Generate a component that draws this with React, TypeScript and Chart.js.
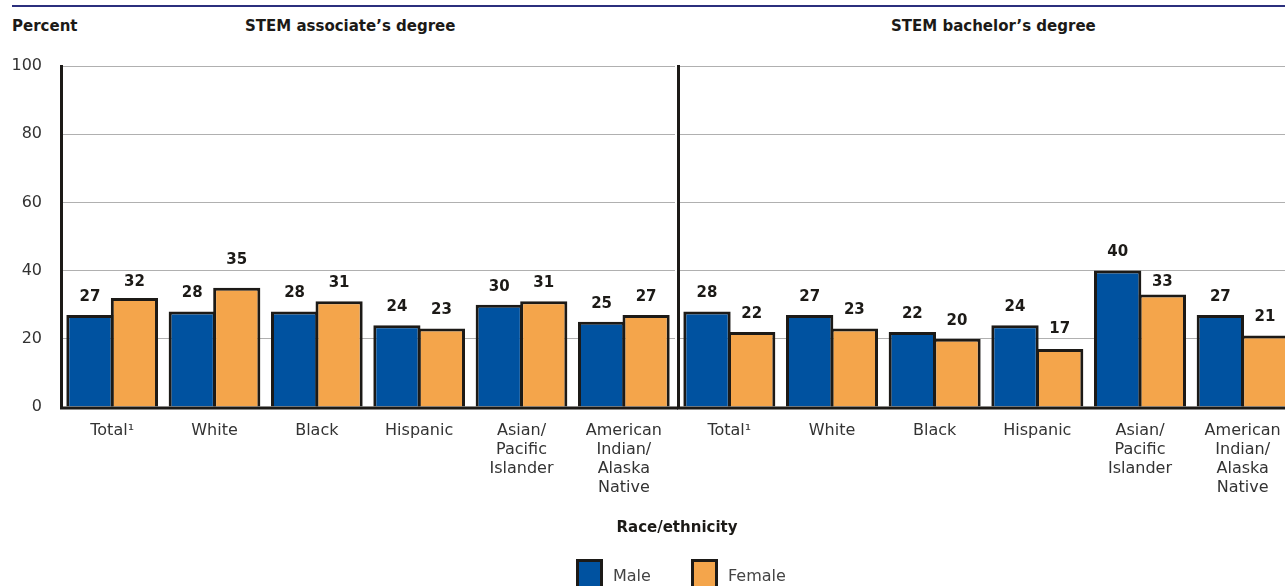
import React, { useEffect, useRef } from "react";
import { Chart, registerables } from "chart.js";

Chart.register(...registerables);

const categories: (string | string[])[] = [
  "Total¹",
  "White",
  "Black",
  "Hispanic",
  ["Asian/", "Pacific", "Islander"],
  ["American", "Indian/", "Alaska", "Native"],
];
const associateMale = [27, 28, 28, 24, 30, 25];
const associateFemale = [32, 35, 31, 23, 31, 27];
const bachelorMale = [28, 27, 22, 24, 40, 27];
const bachelorFemale = [22, 23, 20, 17, 33, 21];
const yMin = 0;
const yMax = 100;
const yStep = 20;

const FONT = "'DejaVu Sans', sans-serif";
const BLUE = "#0052a0";
const ORANGE = "#f4a54b";
const DARK = "#1c1a17";
const GRID = "#b0b0b0";
const TEXT = "#333333";

const valueLabels = {
  id: "valueLabels",
  afterDatasetsDraw(chart: any) {
    const ctx = chart.ctx;
    const y = chart.scales.y;
    const grids = y.ticks
      .map((t: any) => t.value)
      .filter((v: number) => v !== 0)
      .map((v: number) => y.getPixelForValue(v));
    ctx.save();
    ctx.font = `bold 15px ${FONT}`;
    ctx.fillStyle = DARK;
    ctx.textAlign = "center";
    ctx.textBaseline = "middle";
    chart.data.datasets.forEach((ds: any, i: number) => {
      const meta = chart.getDatasetMeta(i);
      meta.data.forEach((el: any, j: number) => {
        let c = el.y - 18;
        for (const g of grids) {
          if (Math.abs(c - g) < 10) {
            c = c < g ? g - 10 : g + 12;
          }
        }
        ctx.fillText(String(ds.data[j]), el.x, c);
      });
    });
    ctx.restore();
  },
};

const baseline = {
  id: "baseline",
  afterDatasetsDraw(chart: any) {
    const ctx = chart.ctx;
    const a = chart.chartArea;
    ctx.save();
    ctx.strokeStyle = DARK;
    ctx.lineWidth = 3;
    ctx.beginPath();
    ctx.moveTo(a.left - 1, a.bottom + 1);
    ctx.lineTo(chart.width, a.bottom + 1);
    ctx.stroke();
    ctx.restore();
  },
};

function makeConfig(male: number[], female: number[], isLeft: boolean): any {
  return {
    type: "bar",
    data: {
      labels: categories,
      datasets: [
        {
          label: "Male",
          data: male,
          backgroundColor: BLUE,
          borderColor: DARK,
          borderWidth: 3,
          borderSkipped: "bottom",
        },
        {
          label: "Female",
          data: female,
          backgroundColor: ORANGE,
          borderColor: DARK,
          borderWidth: 3,
          borderSkipped: "bottom",
        },
      ],
    },
    options: {
      responsive: false,
      animation: false,
      devicePixelRatio: 1,
      layout: { padding: { top: 66, bottom: 0, left: 0, right: isLeft ? 3 : 2 } },
      plugins: {
        legend: { display: false },
        tooltip: { enabled: false },
      },
      datasets: { bar: { categoryPercentage: 0.87, barPercentage: 1.06 } },
      scales: {
        x: {
          grid: { display: false, drawTicks: false },
          border: { display: false },
          ticks: {
            autoSkip: false,
            maxRotation: 0,
            minRotation: 0,
            padding: 14,
            color: TEXT,
            font: { family: FONT, size: 16 },
          },
          afterFit: (s: any) => {
            s.height = 179;
          },
        },
        y: {
          min: yMin,
          max: yMax,
          ticks: {
            stepSize: yStep,
            display: isLeft,
            padding: 19,
            color: TEXT,
            font: { family: FONT, size: 16 },
          },
          grid: {
            drawTicks: false,
            lineWidth: 1,
            color: (c: any) => (c.tick && c.tick.value === 0 ? "rgba(0,0,0,0)" : GRID),
          },
          border: { display: true, color: DARK, width: 3 },
          afterFit: (s: any) => {
            s.width = isLeft ? 61 : 2;
          },
        },
      },
    },
    plugins: [valueLabels, baseline],
  };
}

export default function App() {
  const leftRef = useRef<HTMLCanvasElement>(null);
  const rightRef = useRef<HTMLCanvasElement>(null);

  useEffect(() => {
    const c1 = new Chart(leftRef.current as HTMLCanvasElement, makeConfig(associateMale, associateFemale, true));
    const c2 = new Chart(rightRef.current as HTMLCanvasElement, makeConfig(bachelorMale, bachelorFemale, false));
    return () => {
      c1.destroy();
      c2.destroy();
    };
  }, []);

  const bold: React.CSSProperties = {
    position: "absolute",
    fontFamily: FONT,
    fontWeight: "bold",
    fontSize: 15,
    lineHeight: "15px",
    color: DARK,
    whiteSpace: "nowrap",
  };
  const legendText: React.CSSProperties = {
    position: "absolute",
    fontFamily: FONT,
    fontSize: 16,
    lineHeight: "16px",
    color: "#444",
    whiteSpace: "nowrap",
    top: 568,
  };
  const box = (bg: string, left: number): React.CSSProperties => ({
    position: "absolute",
    left,
    top: 559,
    width: 21,
    height: 24,
    background: bg,
    border: `3px solid ${DARK}`,
  });

  return (
    <div
      style={{
        position: "absolute",
        left: 0,
        top: 0,
        width: 1285,
        height: 586,
        overflow: "hidden",
        background: "#ffffff",
      }}
    >
      <div style={{ position: "absolute", left: 12, right: 0, top: 5, height: 2, background: "#2b2f7d" }} />
      <div style={{ ...bold, left: 12, top: 19 }}>Percent</div>
      <div style={{ ...bold, left: 245, top: 19 }}>STEM associate’s degree</div>
      <div style={{ ...bold, left: 891, top: 19 }}>STEM bachelor’s degree</div>
      <canvas
        ref={leftRef}
        width={678}
        height={586}
        style={{ position: "absolute", left: 0, top: 0, width: 678, height: 586 }}
      />
      <canvas
        ref={rightRef}
        width={620}
        height={586}
        style={{ position: "absolute", left: 676, top: 0, width: 620, height: 586 }}
      />
      <div style={{ ...bold, left: 677, top: 520, transform: "translateX(-50%)" }}>Race/ethnicity</div>
      <div style={box(BLUE, 576)} />
      <div style={{ ...legendText, left: 613 }}>Male</div>
      <div style={box(ORANGE, 691)} />
      <div style={{ ...legendText, left: 728 }}>Female</div>
    </div>
  );
}
